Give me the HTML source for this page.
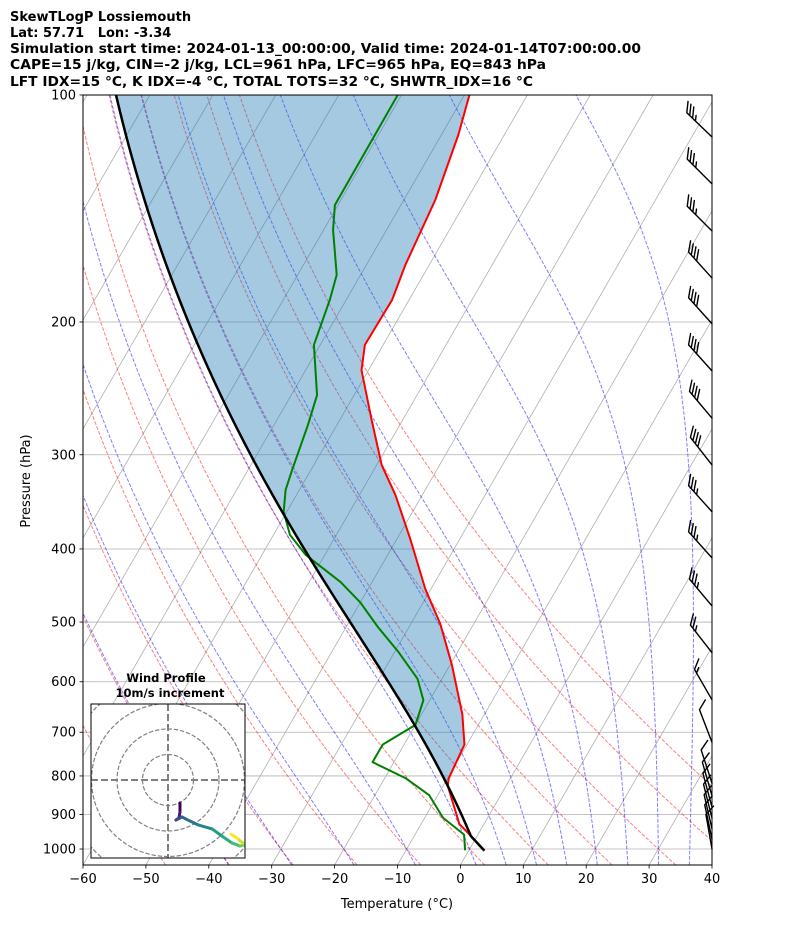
<!DOCTYPE html>
<html><head><meta charset="utf-8"><title>SkewT Lossiemouth</title>
<style>html,body{margin:0;padding:0;background:#fff;}svg{display:block;font-family:"DejaVu Sans","Liberation Sans",sans-serif;}</style>
</head><body>
<svg id="chart" xmlns="http://www.w3.org/2000/svg" width="794" height="937" viewBox="0 0 794 937">
<defs><clipPath id="plotclip"><rect x="83" y="95" width="629" height="770"/></clipPath>
<clipPath id="hodoclip"><rect x="91" y="704" width="154" height="154"/></clipPath></defs>
<g font-weight="bold" font-size="13" fill="#000">
<text x="10" y="21">SkewTLogP Lossiemouth</text>
<text x="10" y="37" xml:space="preserve">Lat: 57.71   Lon: -3.34</text>
<text x="10" y="53" textLength="631" lengthAdjust="spacingAndGlyphs">Simulation start time: 2024-01-13_00:00:00, Valid time: 2024-01-14T07:00:00.00</text>
<text x="10" y="69" textLength="536" lengthAdjust="spacingAndGlyphs">CAPE=15 j/kg, CIN=-2 j/kg, LCL=961 hPa, LFC=965 hPa, EQ=843 hPa</text>
<text x="10" y="86" textLength="523" lengthAdjust="spacingAndGlyphs">LFT IDX=15 °C, K IDX=-4 °C, TOTAL TOTS=32 °C, SHWTR_IDX=16 °C</text>
</g>
<g id="plot"></g>
<text x="397" y="908" font-size="13" text-anchor="middle">Temperature (°C)</text>
<text x="0" y="0" font-size="13" text-anchor="middle" transform="translate(30,481) rotate(-90)">Pressure (hPa)</text>
</svg>
<script>
// ---- data ----
const tempP = [100,113,137.8,168,187,214.5,231.8,270,309.6,339,388.6,452,503,570,663,727,806,824,927,944,988,1005];
const tempT = [-69.2,-67.3,-65.0,-63.8,-62.7,-62.9,-61.1,-54.9,-49.2,-44.3,-37.8,-30.9,-25.3,-19.7,-13.5,-10.4,-9.8,-9.3,-3.9,-2.4,1.2,2.5];
const dewP = [100,139.9,151,173.2,187,214.5,250,274,314,334,357,383,407,442.5,471,508,547,594.6,634.8,684.5,727,767,806,848,909,957,1004];
const dewT = [-80.6,-80.5,-78.5,-73.8,-72.6,-71,-65.9,-64.6,-63,-62.2,-60.5,-57.4,-53.1,-45,-40,-34.9,-29.5,-23.9,-21,-20,-23.4,-23.4,-16.6,-11.4,-7.1,-2.2,-0.6];
const parcelStart = [1005, 2.5];
const lclP = 961;
const pTicks = [100,200,300,400,500,600,700,800,900,1000];
const tTicks = [-60,-50,-40,-30,-20,-10,0,10,20,30,40];
const dryT0 = [-50,-40,-30,-20,-10,0,10,20,30,40,50];
const moistT0 = [-40,-30,-20,-10,0,5,10,15,20,25,30,35,40];
const barbP = [113.7,131.2,151.5,174.9,201.1,232.2,268.3,309.5,357,411,476,549,634,722,818,850,880,910,940,970,1000];
const barbDir = [314,315,315,318,318,318,320,322,318,318,320,322,330,339,342,344,345,346,347,348,350];
const barbSpd = [35,35,35,40,40,40,40,40,35,35,35,25,15,10,12,12,12,12,12,12,12];
const hodoU = [4.7,4.7,4.3,3.1,5.5,7.8,11.8,17.3,21.2,25.1,28.2,29.8,29.4,27.3,24.7];
const hodoV = [-9.0,-12.5,-14.9,-15.7,-14.5,-15.7,-17.6,-19.2,-22.0,-24.7,-25.9,-25.5,-24.7,-23.0,-21.2];

// ---- axes ----
const NS='http://www.w3.org/2000/svg';
const X0=83,X1=712,Y0=95,Y1=865,TMIN=-60,TMAX=40,PTOP=100,PBOT=1050,SKEW=0.577;
function yP(p){return Y0+(Y1-Y0)*Math.log10(p/PTOP)/Math.log10(PBOT/PTOP);}
function xT(T,p){return X0+(T-TMIN)*(X1-X0)/(TMAX-TMIN)+SKEW*(Y1-yP(p));}
function mk(tag,attrs,parent){const e=document.createElementNS(NS,tag);for(const k in attrs)e.setAttribute(k,attrs[k]);parent.appendChild(e);return e;}
function pathOf(ps,ts){return ps.map((p,i)=>(i?'L':'M')+xT(ts[i],p).toFixed(2)+','+yP(p).toFixed(2)).join('');}
function interp(ps,ts,p){for(let i=0;i<ps.length-1;i++){if(p>=ps[i]&&p<=ps[i+1]){const f=(Math.log(p)-Math.log(ps[i]))/(Math.log(ps[i+1])-Math.log(ps[i]));return ts[i]+f*(ts[i+1]-ts[i]);}}return p<ps[0]?ts[0]:ts[ts.length-1];}
function rs(Tk,p){const Tc=Tk-273.15;const es=6.112*Math.exp(17.67*Tc/(Tc+243.5));return 0.62196*es/(p-es);}
function dTdp(Tk,p){const r=rs(Tk,p);return (1/p)*(287.04*Tk+2.501e6*r)/(1005.7+(2.501e6*2.501e6*r*0.62196)/(287.04*Tk*Tk));}
function moist(T0,p0,p1,n){const P=[p0],T=[T0];let t=T0+273.15,p=p0;const dp=(p1-p0)/n;for(let i=0;i<n;i++){const k1=dTdp(t,p);const k2=dTdp(t+k1*dp/2,p+dp/2);t+=k2*dp;p+=dp;P.push(p);T.push(t-273.15);}return [P,T];}

const svg=document.getElementById('chart');
const plot=document.getElementById('plot');
const bg=mk('g',{'clip-path':'url(#plotclip)'},plot);



// isotherms
for(let T=-170;T<=40;T+=10){
  const l=mk('line',{x1:xT(T,PBOT),y1:Y1,x2:xT(T,PTOP),y2:Y0,stroke:'#b0b0b0','stroke-width':0.8},bg);
  
  
}
// pressure grid
pTicks.forEach(p=>{
  const l=mk('line',{x1:X0,y1:yP(p),x2:X1,y2:yP(p),stroke:'#b0b0b0','stroke-width':0.8},bg);
  
  
});
// dry adiabats
const samp=[];for(let p=PBOT;p>=PTOP-0.1;p-=10)samp.push(p);
dryT0.forEach(t0=>{
  const ts=samp.map(p=>(t0+273.15)*Math.pow(p/1000,0.2857)-273.15);
  const l=mk('path',{d:pathOf(samp,ts),fill:'none',stroke:'rgba(255,0,0,0.5)','stroke-width':1,'stroke-dasharray':'3.7,1.6'},bg);
  
  
});
// moist adiabats
moistT0.forEach(t0=>{
  const up=moist(t0,1000,100,180),dn=moist(t0,1000,PBOT,10);
  const P=dn[0].slice().reverse().concat(up[0].slice(1)),T=dn[1].slice().reverse().concat(up[1].slice(1));
  const l=mk('path',{d:pathOf(P,T),fill:'none',stroke:'rgba(0,0,255,0.5)','stroke-width':1,'stroke-dasharray':'3.7,1.6'},bg);
  
  
});

// parcel profile
const pp=[],pt=[];
{const n=20;for(let i=0;i<=n;i++){const p=parcelStart[0]+(lclP-parcelStart[0])*i/n;pp.push(p);pt.push((parcelStart[1]+273.15)*Math.pow(p/parcelStart[0],0.2857)-273.15);}
 const m=moist(pt[pt.length-1],lclP,100,200);for(let i=1;i<m[0].length;i++){pp.push(m[0][i]);pt.push(m[1][i]);}}
// shading between parcel and environment
const fp=[],fe=[],fl=[];
for(let p=100;p<=900;p+=5){const e=interp(tempP,tempT,p);const pa=interp(pp.slice().reverse(),pt.slice().reverse(),p);fp.push(p);fe.push(e);fl.push(Math.min(e,pa));}
const fd=pathOf(fp,fe)+fp.slice().reverse().map((p,i)=>'L'+xT(fl[fl.length-1-i],p).toFixed(2)+','+yP(p).toFixed(2)).join('')+'Z';
const shade=mk('path',{d:fd,fill:'#1f77b4','fill-opacity':0.4,stroke:'none'},bg);



const tl=mk('path',{d:pathOf(tempP,tempT),fill:'none',stroke:'#ff0000','stroke-width':2,'stroke-linejoin':'round'},bg);


const dl=mk('path',{d:pathOf(dewP,dewT),fill:'none',stroke:'#008000','stroke-width':2,'stroke-linejoin':'round'},bg);


const pl=mk('path',{d:pathOf(pp,pt),fill:'none',stroke:'#000','stroke-width':2.5},bg);



// wind barbs
const bx=X1;
barbP.forEach((p,i)=>{
  const g=mk('g',{stroke:'#000','stroke-width':1.4,fill:'none','stroke-linecap':'round'},plot);
  
  
  const th=barbDir[i]*Math.PI/180;const dx=Math.sin(th),dy=-Math.cos(th);
  const by=yP(p),L=35;const tx=bx+dx*L,ty=by+dy*L;
  const px=-dy,py=dx;
  let d='M'+bx+','+by+'L'+tx.toFixed(2)+','+ty.toFixed(2);
  let s=barbSpd[i],pos=0;
  while(s>=10){const sx=tx-dx*pos,sy=ty-dy*pos;d+='M'+sx.toFixed(2)+','+sy.toFixed(2)+'l'+(px*9+dx*7).toFixed(2)+','+(py*9+dy*7).toFixed(2);s-=10;pos+=4;}
  if(s>=5){if(pos===0)pos=4;const sx=tx-dx*pos,sy=ty-dy*pos;d+='M'+sx.toFixed(2)+','+sy.toFixed(2)+'l'+(px*4.5+dx*3.5).toFixed(2)+','+(py*4.5+dy*3.5).toFixed(2);}
  mk('path',{d:d},g);
});

// frame and ticks
const fr=mk('rect',{x:X0,y:Y0,width:X1-X0,height:Y1-Y0,fill:'none',stroke:'#000','stroke-width':1},plot);


pTicks.forEach(p=>{
  const t=mk('line',{x1:X0-3.5,y1:yP(p),x2:X0,y2:yP(p),stroke:'#000','stroke-width':0.8},plot);
  
  
  const lb=mk('text',{x:X0-7,y:yP(p)+4.5,'font-size':13,'text-anchor':'end'},plot);
  
  
  lb.textContent=String(p);
});
tTicks.forEach(T=>{
  const x=X0+(T-TMIN)*(X1-X0)/(TMAX-TMIN);
  const t=mk('line',{x1:x,y1:Y1,x2:x,y2:Y1+3.5,stroke:'#000','stroke-width':0.8},plot);
  
  
  const lb=mk('text',{x:x,y:Y1+18,'font-size':13,'text-anchor':'middle'},plot);
  
  
  lb.textContent=(T<0?'\u2212'+(-T):String(T));
});

// hodograph inset
const HX=168,HY=780,HS=2.55;
const hg=mk('g',{},plot);


const hr=mk('rect',{x:91,y:704,width:154,height:154,fill:'#fff',stroke:'none'},hg);


const hc=mk('g',{'clip-path':'url(#hodoclip)'},hg);


[10,20,30,40].forEach(r=>{
  const c=mk('circle',{cx:HX,cy:HY,r:r*HS,fill:'none',stroke:'#808080','stroke-width':1.2,'stroke-dasharray':'4.4,1.9'},hc);
  
  
});
const ha=mk('line',{x1:HX,y1:704,x2:HX,y2:858,stroke:'#808080','stroke-width':2,'stroke-dasharray':'7,3'},hc);


const hb=mk('line',{x1:91,y1:HY,x2:245,y2:HY,stroke:'#808080','stroke-width':2,'stroke-dasharray':'7,3'},hc);


const vir=['#440154','#472d7b','#3b528b','#2c728e','#21918c','#28ae80','#5ec962','#addc30','#fde725'];
function vcol(f){const k=f*(vir.length-1);const i=Math.min(vir.length-2,Math.floor(k));const a=vir[i],b=vir[i+1],t=k-i;const c=j=>Math.round(parseInt(a.substr(j,2),16)*(1-t)+parseInt(b.substr(j,2),16)*t);return 'rgb('+c(1)+','+c(3)+','+c(5)+')';}
for(let i=0;i<hodoU.length-1;i++){
  const s=mk('line',{x1:HX+hodoU[i]*HS,y1:HY-hodoV[i]*HS,x2:HX+hodoU[i+1]*HS,y2:HY-hodoV[i+1]*HS,stroke:vcol(i/(hodoU.length-2)),'stroke-width':3,'stroke-linecap':'round'},hc);
  
  
}
const hf=mk('rect',{x:91,y:704,width:154,height:154,fill:'none',stroke:'#000','stroke-width':1},hg);


const ht1=mk('text',{x:166,y:682,'font-size':11.5,'font-weight':'bold','text-anchor':'middle'},hg);


ht1.textContent='Wind Profile';
const ht2=mk('text',{x:170,y:697,'font-size':11.5,'font-weight':'bold','text-anchor':'middle'},hg);


ht2.textContent='10m/s increment';
</script>
</body></html>
